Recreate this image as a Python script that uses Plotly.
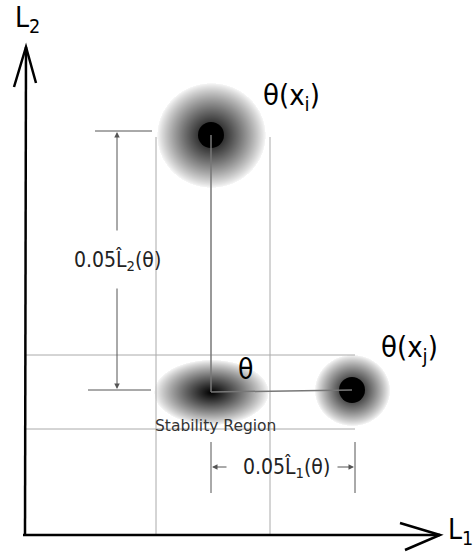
import numpy as np
import plotly.graph_objects as go

# ---- diagram data (L1, L2 coordinates) ----
point_names = ["θ", "θ(x<sub>i</sub>)", "θ(x<sub>j</sub>)"]
point_L1 = [211, 211, 352]
point_L2 = [168, 425, 170]
glow_rx = [58, 55, 38]
glow_ry = [33, 53, 36]
glow_gamma = [0.85, 0.85, 0.85]
dot_shown = [False, True, True]

region_L1 = [156, 270]
region_L2 = [131, 205]

axis_origin = [25, 25]
axis_end = [440, 513]
axis_labels = ["L<sub>1</sub>", "L<sub>2</sub>"]

dim_L2_label = "0.05L\u0302<sub>2</sub>(θ)"
dim_L1_label = "0.05L\u0302<sub>1</sub>(θ)"
region_label = "Stability Region"

W, H = 474, 560
FONT = "DejaVu Sans Condensed, DejaVu Sans, sans-serif"

fig = go.Figure()

# ---- glows (radial gradients) ----
gx = np.arange(140, 405, 1.0)
gy = np.arange(120, 495, 1.0)
X, Y = np.meshgrid(gx, gy)
Z = np.zeros_like(X)
for cx, cy, rx, ry, g in zip(point_L1, point_L2, glow_rx, glow_ry, glow_gamma):
    r = np.sqrt(((X - cx) / rx) ** 2 + ((Y - cy) / ry) ** 2)
    d = np.clip(1 - r, 0, 1) ** g
    Z = np.maximum(Z, d)
Zm = np.where(Z > 0.03, np.round(Z, 3), np.nan)
fig.add_trace(go.Heatmap(x=gx, y=gy, z=Zm, zmin=0, zmax=1,
                         colorscale=[[0, "white"], [1, "black"]],
                         showscale=False, hoverinfo="skip"))

# ---- dots ----
fig.add_trace(go.Scatter(
    x=[x for x, s in zip(point_L1, dot_shown) if s],
    y=[y for y, s in zip(point_L2, dot_shown) if s],
    mode="markers", marker=dict(size=26, color="black"),
    hoverinfo="skip", showlegend=False))

shapes = []
LIGHT = dict(color="#aaaaaa", width=1)
DARK = dict(color="#555555", width=1)

# stability region boundaries
for xv in region_L1:
    shapes.append(dict(type="line", x0=xv, x1=xv, y0=axis_origin[1], y1=point_L2[1] - 2, line=LIGHT))
for yv in region_L2:
    shapes.append(dict(type="line", x0=axis_origin[0], x1=point_L1[2] + 3, y0=yv, y1=yv, line=LIGHT))

# connectors
shapes.append(dict(type="line", x0=point_L1[0], x1=point_L1[1], y0=point_L2[0], y1=point_L2[1],
                   line=dict(color="#777777", width=1.5)))
shapes.append(dict(type="line", x0=point_L1[0], x1=point_L1[2], y0=point_L2[0], y1=point_L2[2],
                   line=dict(color="#777777", width=1.5)))

# L2 dimension ticks
dimx = 117
shapes.append(dict(type="line", x0=95, x1=152, y0=point_L2[1] + 4, y1=point_L2[1] + 4, line=DARK))
shapes.append(dict(type="line", x0=88, x1=151, y0=point_L2[0] + 2, y1=point_L2[0] + 2, line=DARK))
# L1 dimension ticks
for xv in [point_L1[0], point_L1[2] + 3]:
    shapes.append(dict(type="line", x0=xv, x1=xv, y0=67, y1=118, line=DARK))

# axes
AX = dict(color="black", width=2.5)
ox, oy = axis_origin
ex, ey = axis_end
shapes.append(dict(type="line", x0=ox, x1=ox + 1, y0=oy, y1=ey, line=AX))
shapes.append(dict(type="line", x0=ox - 2, x1=ex, y0=oy, y1=oy, line=AX))
shapes.append(dict(type="path", path=f"M {ox-11},{ey-40} L {ox+1},{ey} L {ox+11},{ey-36}", line=AX))
shapes.append(dict(type="path", path=f"M {ex-40},{oy+12} L {ex},{oy} L {ex-35},{oy-15}", line=AX))

annotations = []

def arrow(x, y, ax, ay):
    annotations.append(dict(x=x, y=y, ax=ax, ay=ay, xref="x", yref="y", axref="x", ayref="y",
                            text="", showarrow=True, arrowhead=2, arrowsize=1.1,
                            arrowwidth=1, arrowcolor="#555555"))

arrow(dimx, point_L2[1] + 3, dimx, 328)
arrow(dimx, point_L2[0] + 3, dimx, 273)
arrow(point_L1[0] + 1, 93, 228, 93)
arrow(point_L1[2] + 2, 93, 336, 93)

def text(x, y, s, size, color="black", font=FONT):
    annotations.append(dict(x=x, y=y, xref="x", yref="y", text=s, showarrow=False,
                            font=dict(family=font, size=size, color=color)))

text(dimx, 300, dim_L2_label, 21, "#222222")
text(286, 93, dim_L1_label, 21, "#222222")
text(245, 191, point_names[0], 28)
text(291, 463, point_names[1], 29)
text(409, 211, point_names[2], 29)
text(215, 134, region_label, 15.5, "#333333", "DejaVu Sans, sans-serif")
text(27, 541, axis_labels[1], 28)
text(460, 29, axis_labels[0], 28)

fig.update_layout(
    width=W, height=H, margin=dict(l=0, r=0, t=0, b=0),
    paper_bgcolor="white", plot_bgcolor="white",
    xaxis=dict(range=[0, W], visible=False, fixedrange=True),
    yaxis=dict(range=[0, H], visible=False, fixedrange=True),
    shapes=shapes, annotations=annotations, showlegend=False,
)
fig.write_html("out.html", config={"displayModeBar": False},
               post_script="document.body.style.margin='0';document.body.style.overflow='hidden';")
